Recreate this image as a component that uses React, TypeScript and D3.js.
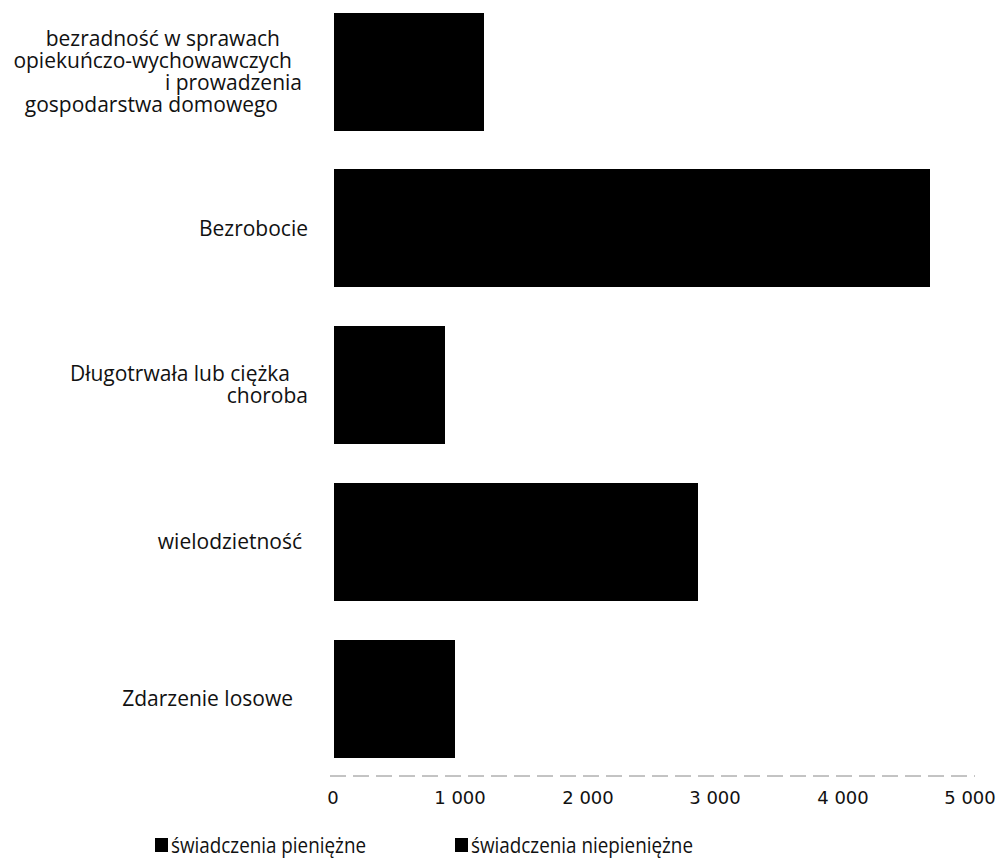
import React from "react";
import * as d3 from "d3";

const categories: string[][] = [
  ["bezradność w sprawach", "opiekuńczo-wychowawczych", "i prowadzenia", "gospodarstwa domowego"],
  ["Bezrobocie"],
  ["Długotrwała lub ciężka", "choroba"],
  ["wielodzietność"],
  ["Zdarzenie losowe"],
];
const pieniezne = [1000, 4100, 760, 2500, 830];
const niepieniezne = [185, 586, 119, 365, 128];
const xTicks = [0, 1000, 2000, 3000, 4000, 5000];
const seriesNames = ["świadczenia pieniężne", "świadczenia niepieniężne"];
const seriesColors = ["#000000", "#000000"];

// layout-only: per-line right-edge nudges of the category labels (px)
const labelNudges: number[][] = [[-22, -10, 0, -24], [6], [-12, 6], [0], [-9]];

const W = 1001;
const H = 860;
const FONT = "'Open Sans', 'DejaVu Sans', sans-serif";
const TICK_FONT = "'DejaVu Sans', 'Open Sans', sans-serif";
const LEG_FONT = "'Liberation Sans Narrow', 'Open Sans', sans-serif";

export default function App() {
  const x = d3.scaleLinear().domain([0, 5000]).rangeRound([333, 970]);
  const y = d3
    .scaleBand<number>()
    .domain(categories.map((_, i) => i))
    .range([-7, 777])
    .paddingInner(0.25)
    .paddingOuter(0.125);
  const stacked = d3
    .stack<number>()
    .keys(["p", "n"])
    .value((i, k) => (k === "p" ? pieniezne[i] : niepieniezne[i]))(categories.map((_, i) => i));
  const fmt = (v: number) => d3.format(",")(v).replace(/,/g, " ");
  const lh = 22;
  return (
    <div style={{ position: "absolute", left: 0, top: 0 }}>
      <svg width={W} height={H} style={{ display: "block", background: "#fff" }}>
        {stacked.map((s, si) =>
          s.map((d, i) => (
            <rect
              key={`${si}-${i}`}
              x={x(d[0]) + (si === 0 ? 1 : 0)}
              y={Math.round(y(i)!)}
              width={x(d[1]) - x(d[0]) - (si === 0 ? 1 : 0)}
              height={Math.round(y.bandwidth())}
              fill={seriesColors[si]}
              shapeRendering="crispEdges"
            />
          ))
        )}
        {categories.map((lines, i) => {
          const cy = y(i)! + y.bandwidth() / 2;
          const start = cy - ((lines.length - 1) * lh) / 2;
          return (
            <text key={i} textAnchor="end" fontFamily={FONT} fontSize={21} fill="#111">
              {lines.map((l, j) => (
                <tspan key={j} x={302 + labelNudges[i][j]} y={start + j * lh} dy="0.35em">
                  {l}
                </tspan>
              ))}
            </text>
          );
        })}
        <line
          x1={330}
          x2={975}
          y1={776}
          y2={776}
          stroke="#888"
          strokeWidth={1}
          strokeDasharray="16 7"
        />
        {xTicks.map((t) => (
          <text
            key={t}
            x={x(t)}
            y={798}
            dy="0.35em"
            textAnchor="middle"
            fontFamily={TICK_FONT}
            fontSize={18}
            fill="#111"
          >
            {fmt(t)}
          </text>
        ))}
        {seriesNames.map((n, i) => {
          const lx = i === 0 ? 155 : 455;
          return (
            <g key={n}>
              <rect x={lx} y={838} width={13} height={14} fill={seriesColors[i]} />
              <text
                x={lx + 16}
                y={845}
                dy="0.35em"
                fontFamily={LEG_FONT}
                fontSize={22}
                fill="#111"
                textLength={i === 0 ? 195 : 222}
                lengthAdjust="spacingAndGlyphs"
              >
                {n}
              </text>
            </g>
          );
        })}
      </svg>
    </div>
  );
}
